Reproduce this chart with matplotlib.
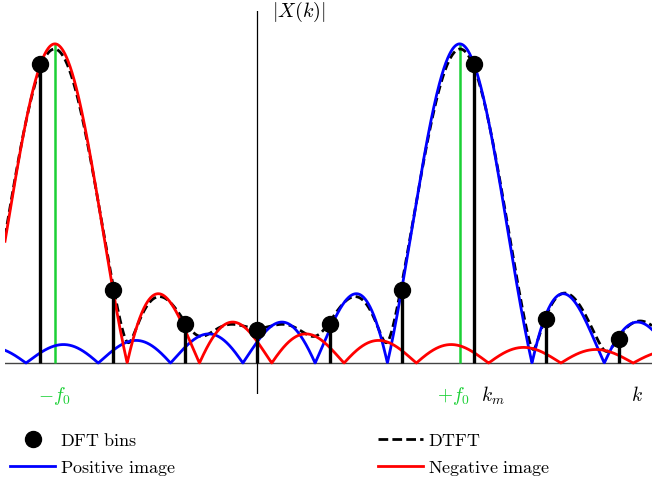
import numpy as np
import matplotlib
matplotlib.use("Agg")
import matplotlib.pyplot as plt
from matplotlib.lines import Line2D

plt.rcParams['mathtext.fontset'] = 'cm'

# values
f0 = 2.8                 # tone frequency in bins
img_phase = 0.62         # phase between the two images (rad)
dft_k = [-3, -2, -1, 0, 1, 2, 3, 4, 5]
dft_mag = [0.937, 0.229, 0.122, 0.103, 0.122, 0.229, 0.937, 0.138, 0.075]
k_range = (-3.49, 5.46)

green = '#1bd035'

# continuous spectra of the two images and their sum
k = np.linspace(k_range[0], k_range[1], 2000)
pos = np.sinc(k - f0)
neg = np.sinc(k + f0)
dtft = np.abs(pos * np.exp(1j * img_phase) + neg * np.exp(-1j * img_phase))

fig = plt.figure(figsize=(6.52, 4.85), dpi=100)
ax = fig.add_axes([5/652, 1 - 395/485, 647/652, 383/485])
ax.set_xlim(*k_range)
ax.set_ylim(-0.097, 1.103)
ax.axis('off')

# axes
ax.axhline(0, color='#444444', lw=1.0, zorder=1)
ax.axvline(0, color='k', lw=0.9, zorder=1)

# green markers at +-f0
ax.vlines([-f0, f0], 0, 1.0, color=green, lw=1.8, zorder=2)

ax.plot(k, dtft, color='k', lw=2.0, ls=(0, (3, 1.5)), zorder=3)
ax.plot(k, np.abs(pos), color='blue', lw=2.0, zorder=4)
ax.plot(k, np.abs(neg), color='red', lw=2.0, zorder=4)

ax.vlines(dft_k, 0, dft_mag, color='k', lw=2.4, zorder=5)
ax.plot(dft_k, dft_mag, 'o', color='k', ms=11.5, zorder=6)

# labels
ax.text(0.2, 1.103, r'$|X(k)|$', fontsize=14.5, ha='left', va='center')
ax.text(-f0, -0.1, r'$-f_0$', color=green, fontsize=14, ha='center', va='center')
ax.text(2.94, -0.1, r'$+f_0$', color=green, fontsize=14, ha='right', va='center')
ax.text(3.1, -0.1, r'$k_m$', fontsize=14, ha='left', va='center')
ax.text(5.25, -0.1, r'$k$', fontsize=14, ha='center', va='center')

handles = [
    Line2D([], [], ls='none', marker='o', color='k', ms=11.5),
    Line2D([], [], color='blue', lw=2),
    Line2D([], [], color='k', lw=2, ls=(0, (3.5, 1.5))),
    Line2D([], [], color='red', lw=2),
]
labels = [r'$\mathrm{DFT\ bins}$', r'$\mathrm{Positive\ image}$',
          r'$\mathrm{DTFT}$', r'$\mathrm{Negative\ image}$']
fig.legend(handles, labels, ncol=2, loc='upper left',
           bbox_to_anchor=(10/652, 1 - 432/485), frameon=False,
           fontsize=13, handlelength=2.5, handletextpad=0.28,
           columnspacing=11.2, labelspacing=0.5,
           borderaxespad=0, borderpad=0)

fig.savefig('out.png', dpi=100)
